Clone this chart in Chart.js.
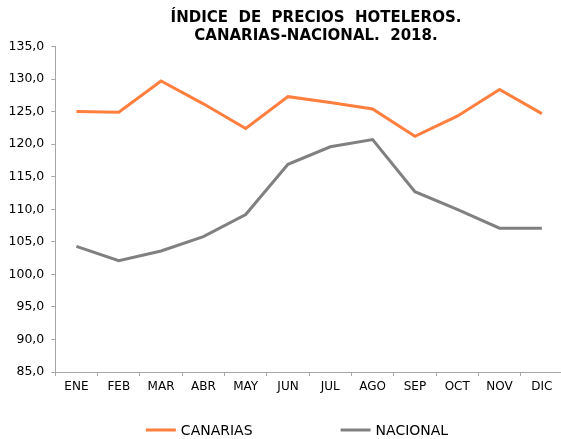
<!DOCTYPE html>
<html>
<head>
<meta charset="utf-8">
<script src="https://cdn.jsdelivr.net/npm/chart.js@4"></script>
<style>
html,body{margin:0;padding:0;background:#fff;overflow:hidden;}
#wrap{width:566px;height:439px;position:relative;}
</style>
</head>
<body>
<div id="wrap"><canvas id="c"></canvas></div>
<script>
const categories = ["ENE","FEB","MAR","ABR","MAY","JUN","JUL","AGO","SEP","OCT","NOV","DIC"];
const canarias = [125.0, 124.9, 129.7, 126.2, 122.4, 127.3, 126.4, 125.4, 121.2, 124.3, 128.4, 124.7];
const nacional = [104.3, 102.1, 103.6, 105.8, 109.2, 116.9, 119.6, 120.7, 112.7, 110.0, 107.1, 107.1];
const seriesNames = ["CANARIAS", "NACIONAL"];
const titleLines = ["ÍNDICE  DE  PRECIOS  HOTELEROS.", "CANARIAS-NACIONAL.  2018."];
const yMin = 85, yMax = 135, yStep = 5;

const axisColor = "#a6a6a6";
const fontFam = "'DejaVu Sans', Verdana, sans-serif";

const decorPlugin = {
  id: 'decor',
  afterDraw(chart) {
    const ctx = chart.ctx;
    ctx.save();
    ctx.fillStyle = '#000';
    ctx.font = "bold 15px " + fontFam;
    ctx.textAlign = 'center';
    ctx.textBaseline = 'middle';
    ctx.fillText(titleLines[0], 316, 18);
    ctx.fillText(titleLines[1], 316, 36);
    ctx.font = "14px " + fontFam;
    ctx.textAlign = 'left';
    const ds = chart.data.datasets;
    const boxW = 30, gapTxt = 5, gapItem = 88;
    const widths = ds.map(d => boxW + gapTxt + ctx.measureText(d.label).width);
    const total = widths.reduce((a,b)=>a+b,0) + gapItem*(ds.length-1);
    let x = 297 - total/2;
    const y = 430;
    ds.forEach((d,i) => {
      ctx.strokeStyle = d.borderColor;
      ctx.lineWidth = 3;
      ctx.beginPath();
      ctx.moveTo(x, y); ctx.lineTo(x+boxW, y);
      ctx.stroke();
      ctx.fillStyle = '#000';
      ctx.fillText(d.label, x+boxW+gapTxt, y+1);
      x += widths[i] + gapItem;
    });
    ctx.restore();
  }
};

new Chart(document.getElementById('c'), {
  type: 'line',
  data: {
    labels: categories,
    datasets: [
      {label: seriesNames[0], data: canarias, borderColor: '#ff7f3f', backgroundColor: '#ff7f3f', borderWidth: 3, pointRadius: 0, tension: 0, fill: false},
      {label: seriesNames[1], data: nacional, borderColor: '#808080', backgroundColor: '#808080', borderWidth: 3, pointRadius: 0, tension: 0, fill: false}
    ]
  },
  options: {
    responsive: true,
    maintainAspectRatio: false,
    animation: false,
    layout: {padding: {left: 1.5, right: 3, top: 46.5, bottom: 40.5}},
    plugins: {legend: {display: false}, title: {display: false}, tooltip: {enabled: false}},
    scales: {
      x: {
        offset: true,
        grid: {display: true, drawOnChartArea: false, drawTicks: true, tickLength: 4, color: axisColor, offset: true},
        border: {color: axisColor, width: 1},
        ticks: {color: '#000', font: {family: fontFam, size: 12}, padding: 4, maxRotation: 0, autoSkip: false}
      },
      y: {
        min: yMin, max: yMax,
        grid: {display: true, drawOnChartArea: false, drawTicks: true, tickLength: 4, color: axisColor},
        border: {color: axisColor, width: 1},
        ticks: {stepSize: yStep, color: '#000', font: {family: fontFam, size: 12.5}, padding: 7,
          callback: v => v.toFixed(1).replace('.', ',')}
      }
    }
  },
  plugins: [decorPlugin]
});
</script>
</body>
</html>
